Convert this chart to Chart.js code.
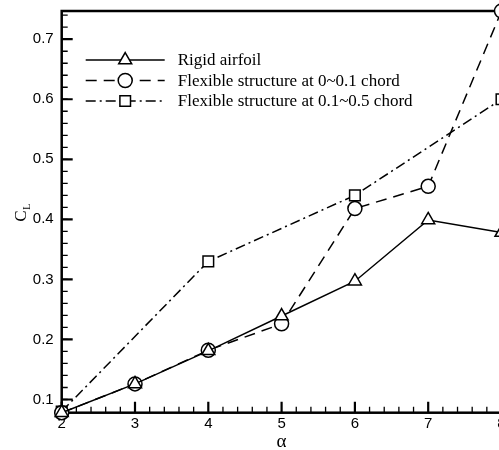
<!DOCTYPE html>
<html>
<head>
<meta charset="utf-8">
<script src="https://cdn.jsdelivr.net/npm/chart.js@4"></script>
<style>
  html, body { margin: 0; padding: 0; background: #fff; overflow: hidden; }
  #chart { display: block; }
</style>
</head>
<body>
<canvas id="chart" width="520" height="450"></canvas>
<script>
// --- data ---
const alpha = [2, 3, 4, 5, 6, 7, 8];
const rigid = [0.078, 0.126, 0.181, 0.239, 0.297, 0.399, 0.378];
const flexLead = [0.078, 0.126, 0.182, 0.226, 0.418, 0.455, 0.747];
const alphaMid = [2, 4, 6, 8];
const flexMid = [0.08, 0.33, 0.44, 0.60];

const xTicks = [2, 3, 4, 5, 6, 7, 8];
const yTicks = [0.1, 0.2, 0.3, 0.4, 0.5, 0.6, 0.7];
const legendLabels = ['Rigid airfoil', 'Flexible structure at 0~0.1 chord', 'Flexible structure at 0.1~0.5 chord'];

const pts = (xs, ys) => xs.map((x, i) => ({ x: x, y: ys[i] }));

// frame, inward ticks, axis titles and legend
const decor = {
    id: 'decor',
    beforeDatasetsDraw(chart) {
        const c = chart.ctx, a = chart.chartArea;
        const xs = chart.scales.x, ys = chart.scales.y;
        c.save();
        c.strokeStyle = '#000';

        // minor ticks
        c.lineWidth = 1.3;
        c.beginPath();
        for (let i = 0; i < xTicks.length - 1; i++) {
            const step = (xTicks[i + 1] - xTicks[i]) / 5;
            for (let k = 1; k < 5; k++) {
                const px = xs.getPixelForValue(xTicks[i] + k * step);
                c.moveTo(px, a.bottom); c.lineTo(px, a.bottom - 6);
            }
        }
        const yStep = (yTicks[1] - yTicks[0]) / 5;
        for (let v = yTicks[0] - 4 * yStep; v < ys.max; v += yStep) {
            if (v <= ys.min + 0.005) continue;
            const py = ys.getPixelForValue(v);
            c.moveTo(a.left, py); c.lineTo(a.left + 6, py);
        }
        c.stroke();

        // major ticks
        c.lineWidth = 2.2;
        c.beginPath();
        xTicks.forEach(v => {
            const px = xs.getPixelForValue(v);
            c.moveTo(px, a.bottom); c.lineTo(px, a.bottom - 11);
        });
        yTicks.forEach(v => {
            const py = ys.getPixelForValue(v);
            c.moveTo(a.left, py); c.lineTo(a.left + 11, py);
        });
        c.stroke();

        // frame
        c.lineWidth = 2.5;
        c.strokeRect(a.left, a.top, a.right - a.left, a.bottom - a.top);
        c.restore();
    },
    afterDraw(chart) {
        const c = chart.ctx, a = chart.chartArea;
        c.save();
        c.fillStyle = '#000';

        // x title
        c.font = '19px "Liberation Serif", serif';
        c.textAlign = 'center';
        c.textBaseline = 'alphabetic';
        c.fillText('\u03b1', (a.left + a.right) / 2, 447);

        // y title C_L
        c.translate(26, (a.top + a.bottom) / 2 + 4);
        c.rotate(-Math.PI / 2);
        c.font = '17px "Liberation Serif", serif';
        c.textAlign = 'left';
        c.fillText('C', -6, 0);
        c.font = '10px "Liberation Serif", serif';
        c.fillText('L', 6, 4);
        c.restore();

        // legend
        c.save();
        chart.data.datasets.forEach((ds, i) => {
            const y = a.top + 49 + i * 20.5;
            const x0 = a.left + 24, x1 = a.left + 103;
            c.strokeStyle = '#000';
            c.lineWidth = ds.borderWidth;
            c.setLineDash(ds.borderDash || []);
            c.beginPath(); c.moveTo(x0, y); c.lineTo(x1, y); c.stroke();
            c.setLineDash([]);
            c.fillStyle = '#fff';
            Chart.helpers.drawPoint(c, {
                pointStyle: ds.pointStyle, radius: ds.pointRadius,
                borderWidth: ds.pointBorderWidth, rotation: 0
            }, (x0 + x1) / 2, y);
            c.fillStyle = '#000';
            c.font = '17px "Liberation Serif", serif';
            c.textAlign = 'left';
            c.textBaseline = 'middle';
            c.fillText(legendLabels[i], a.left + 116, y + 1);
        });
        c.restore();
    }
};

new Chart(document.getElementById('chart'), {
    type: 'line',
    data: {
        datasets: [{
            label: legendLabels[0],
            data: pts(alpha, rigid),
            borderColor: '#000',
            borderWidth: 1.5,
            pointStyle: 'triangle',
            pointRadius: 7.5,
            pointBorderWidth: 1.5,
            pointBackgroundColor: '#fff',
            pointBorderColor: '#000',
            clip: false
        }, {
            label: legendLabels[1],
            data: pts(alpha, flexLead),
            borderColor: '#000',
            borderWidth: 1.5,
            borderDash: [11, 7],
            pointStyle: 'circle',
            pointRadius: 7,
            pointBorderWidth: 1.5,
            pointBackgroundColor: '#fff',
            pointBorderColor: '#000',
            clip: false
        }, {
            label: legendLabels[2],
            data: pts(alphaMid, flexMid),
            borderColor: '#000',
            borderWidth: 1.5,
            borderDash: [10, 4, 2, 4],
            pointStyle: 'rect',
            pointRadius: 7.5,
            pointBorderWidth: 1.5,
            pointBackgroundColor: '#fff',
            pointBorderColor: '#000',
            clip: false
        }]
    },
    options: {
        responsive: false,
        devicePixelRatio: 1,
        animation: false,
        layout: { padding: { top: 11, right: 18.5, left: 0, bottom: 0 } },
        plugins: { legend: { display: false }, tooltip: { enabled: false } },
        elements: { line: { tension: 0, fill: false } },
        scales: {
            x: {
                type: 'linear',
                min: 2, max: 8,
                grid: { display: false, drawTicks: false },
                border: { display: false },
                afterBuildTicks: s => { s.ticks = xTicks.map(v => ({ value: v })); },
                afterFit: s => { s.height = 37.3; s.paddingLeft = 0; s.paddingRight = 0; },
                ticks: {
                    color: '#000',
                    padding: 2,
                    font: { family: '"Liberation Sans", Arial, sans-serif', size: 15 },
                    maxRotation: 0
                }
            },
            y: {
                type: 'linear',
                min: 0.078, max: 0.747,
                grid: { display: false, drawTicks: false },
                border: { display: false },
                afterBuildTicks: s => { s.ticks = yTicks.map(v => ({ value: v })); },
                afterFit: s => { s.width = 61.7; s.paddingTop = 0; s.paddingBottom = 0; },
                ticks: {
                    color: '#000',
                    padding: 8,
                    font: { family: '"Liberation Sans", Arial, sans-serif', size: 15 },
                    callback: v => v.toFixed(1)
                }
            }
        }
    },
    plugins: [decor]
});
</script>
</body>
</html>
